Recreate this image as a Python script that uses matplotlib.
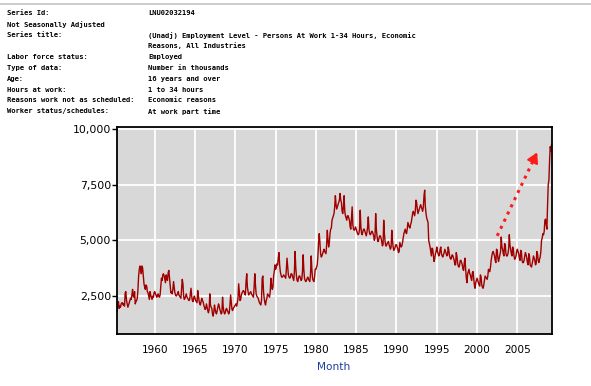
import matplotlib
matplotlib.use('Agg')
from matplotlib import pyplot as plt
from matplotlib.ticker import FuncFormatter
import numpy as np

# monthly values, thousands
monthly = {
    1955: [2450, 2300, 2200, 1950, 1800, 2100, 2250, 1950, 2050, 2000, 2150, 2200],
    1956: [2200, 2100, 2150, 2050, 2650, 2700, 2300, 2150, 2000, 2100, 2200, 2300],
    1957: [2400, 2350, 2550, 2800, 2500, 2450, 2700, 2150, 2250, 2300, 2400, 2800],
    1958: [3400, 3700, 3850, 3700, 3500, 3850, 3750, 3400, 3050, 2900, 2800, 3000],
    1959: [2950, 2700, 2650, 2500, 2350, 2700, 2550, 2450, 2350, 2500, 2450, 2650],
    1960: [2700, 2600, 2550, 2450, 2500, 2600, 2500, 2450, 2550, 2900, 3300, 3200],
    1961: [3450, 3500, 3400, 3250, 3100, 3450, 3300, 3200, 3550, 3650, 3300, 3000],
    1962: [2650, 2700, 2600, 2800, 3150, 2900, 2650, 2550, 2500, 2550, 2600, 2700],
    1963: [2550, 2500, 2450, 2400, 2850, 3250, 3050, 2500, 2350, 2400, 2500, 2600],
    1964: [2450, 2400, 2350, 2300, 2350, 2600, 2850, 2500, 2300, 2250, 2400, 2500],
    1965: [2400, 2300, 2250, 2200, 2750, 2500, 2300, 2150, 2100, 2250, 2400, 2300],
    1966: [2250, 2100, 2000, 1900, 1950, 2150, 2000, 1850, 1750, 1900, 2600, 2100],
    1967: [2000, 1950, 1700, 1600, 1800, 2100, 1900, 1750, 1700, 1850, 2000, 2150],
    1968: [2050, 1900, 1800, 1700, 1750, 2450, 2000, 1800, 1700, 1750, 1900, 1950],
    1969: [1850, 1800, 1700, 1750, 2100, 2550, 2200, 1900, 1850, 1950, 2000, 2050],
    1970: [2100, 2150, 2050, 2200, 2400, 3050, 2700, 2300, 2350, 2550, 2650, 2700],
    1971: [2750, 2700, 2600, 2550, 3150, 3500, 2900, 2700, 2550, 2600, 2650, 2700],
    1972: [2600, 2550, 2500, 2450, 2900, 3500, 3000, 2600, 2500, 2450, 2400, 2300],
    1973: [2200, 2150, 2100, 2300, 3300, 3400, 2700, 2400, 2200, 2100, 2300, 2400],
    1974: [2600, 2550, 2500, 2450, 2700, 3300, 3000, 2800, 2900, 3400, 3600, 3900],
    1975: [3700, 3800, 3950, 3900, 4200, 4450, 3900, 3600, 3450, 3350, 3350, 3400],
    1976: [3450, 3400, 3350, 3300, 3700, 4200, 3800, 3450, 3350, 3300, 3350, 3500],
    1977: [3500, 3400, 3300, 3200, 3600, 4500, 3800, 3400, 3200, 3150, 3300, 3400],
    1978: [3400, 3300, 3200, 3250, 3600, 4350, 3700, 3300, 3200, 3150, 3200, 3300],
    1979: [3350, 3250, 3200, 3150, 3500, 4300, 3700, 3300, 3200, 3150, 3350, 3700],
    1980: [3700, 3800, 3900, 4300, 4900, 5300, 4900, 4400, 4250, 4300, 4400, 4500],
    1981: [4600, 4500, 4450, 4400, 4800, 5450, 5000, 4700, 4900, 5300, 5500, 5550],
    1982: [5900, 6000, 6100, 6200, 6500, 7000, 6600, 6400, 6500, 6600, 6700, 6800],
    1983: [7100, 6800, 6700, 6300, 6200, 6500, 7000, 6300, 6100, 6000, 5900, 6100],
    1984: [6100, 6000, 5900, 5600, 5500, 6000, 6500, 5700, 5500, 5450, 5500, 5600],
    1985: [5500, 5400, 5300, 5250, 5300, 5500, 6350, 5600, 5300, 5250, 5400, 5500],
    1986: [5500, 5400, 5300, 5200, 5350, 5600, 6050, 5500, 5300, 5250, 5300, 5400],
    1987: [5400, 5300, 5200, 5000, 5100, 6200, 5500, 5200, 4950, 4950, 5100, 5200],
    1988: [5200, 5100, 4950, 4750, 4800, 5900, 5300, 4950, 4750, 4750, 4850, 4900],
    1989: [4950, 4800, 4700, 4600, 4700, 5450, 5000, 4700, 4550, 4600, 4700, 4800],
    1990: [4800, 4700, 4600, 4450, 4500, 4900, 4800, 4700, 4750, 4900, 5100, 5300],
    1991: [5400, 5500, 5350, 5300, 5500, 5800, 5700, 5600, 5550, 5700, 5800, 6000],
    1992: [6200, 6300, 6200, 6100, 6300, 6800, 6700, 6400, 6200, 6300, 6400, 6500],
    1993: [6600, 6500, 6400, 6300, 6500, 7000, 7250, 6500, 6200, 6000, 5900, 5800],
    1994: [5000, 4850, 4700, 4500, 4300, 4650, 4600, 4300, 4050, 4200, 4400, 4500],
    1995: [4700, 4500, 4400, 4300, 4350, 4600, 4700, 4400, 4300, 4250, 4350, 4450],
    1996: [4600, 4500, 4400, 4300, 4350, 4700, 4550, 4300, 4200, 4150, 4250, 4350],
    1997: [4300, 4200, 4100, 3900, 3900, 4450, 4300, 4000, 3850, 3800, 3900, 4100],
    1998: [4100, 4000, 3900, 3700, 3650, 4000, 4200, 3700, 3300, 3100, 3500, 3600],
    1999: [3700, 3500, 3450, 3300, 3200, 3550, 3600, 3300, 3000, 2850, 3100, 3200],
    2000: [3300, 3200, 3100, 3000, 2950, 3450, 3350, 3000, 2900, 2850, 3000, 3200],
    2001: [3400, 3350, 3300, 3250, 3400, 3700, 3600, 3600, 3800, 4100, 4300, 4450],
    2002: [4500, 4400, 4300, 4100, 4000, 4600, 4550, 4200, 4050, 4200, 4350, 4500],
    2003: [5150, 4700, 4600, 4400, 4300, 4850, 4800, 4400, 4300, 4300, 4400, 4600],
    2004: [5250, 4800, 4600, 4400, 4300, 4700, 4600, 4300, 4150, 4200, 4300, 4500],
    2005: [4600, 4500, 4400, 4200, 4100, 4550, 4500, 4100, 4000, 4000, 4100, 4300],
    2006: [4450, 4350, 4200, 4000, 3900, 4400, 4300, 3900, 3850, 3800, 3950, 4100],
    2007: [4300, 4200, 4100, 3900, 3950, 4500, 4400, 4100, 4000, 4150, 4250, 4500],
    2008: [5000, 5100, 5300, 5250, 5400, 5900, 5950, 5700, 5500, 6600, 7500, 7700],
    2009: [8600, 9200, 9000, 9300],
}

yticks = [2500, 5000, 7500, 10000]
xticks = [1960, 1965, 1970, 1975, 1980, 1985, 1990, 1995, 2000, 2005]

# hand-drawn arrow on the chart (year, value)
arrow_start = (2002.5, 5200)
arrow_end = (2007.6, 9050)

header = [
    ('Series Id:', 'LNU02032194'),
    ('Not Seasonally Adjusted', ''),
    ('Series title:', '(Unadj) Employment Level - Persons At Work 1-34 Hours, Economic'),
    ('', 'Reasons, All Industries'),
    ('Labor force status:', 'Employed'),
    ('Type of data:', 'Number in thousands'),
    ('Age:', '16 years and over'),
    ('Hours at work:', '1 to 34 hours'),
    ('Reasons work not as scheduled:', 'Economic reasons'),
    ('Worker status/schedules:', 'At work part time'),
]

t = []
v = []
for year, vals in monthly.items():
    for m, val in enumerate(vals):
        t.append(year + m / 12)
        v.append(val)
t = np.array(t)
v = np.array(v)

fig = plt.figure(figsize=(5.91, 3.86), dpi=100)
fig.patch.set_facecolor('white')

# header block
fig.add_artist(plt.Line2D([0, 1], [1 - 4 / 386, 1 - 4 / 386], color='#c4c4c4', lw=1.2))
for i, (lab, val) in enumerate(header):
    y = 1 - (13.3 + i * 10.9) / 386
    fig.text(7 / 591, y, lab, family='DejaVu Sans Mono', weight='bold', size=5.15, va='center')
    fig.text(148 / 591, y, val, family='DejaVu Sans Mono', weight='bold', size=5.15, va='center')

ax = fig.add_axes([116.7 / 591, 1 - 334 / 386, (552 - 116.7) / 591, (334 - 127) / 386])
ax.set_facecolor('#d8d8d8')
ax.plot(t, v, color='#a00000', lw=1.0)

ax.set_xlim(1955.28, 2009.3)
ax.set_ylim(800, 10080)
ax.set_xticks(xticks)
ax.set_yticks(yticks)
ax.yaxis.set_major_formatter(FuncFormatter(lambda x, p: f'{int(x):,}'))
ax.grid(True, color='white', lw=1.3)
ax.set_axisbelow(True)
for s in ax.spines.values():
    s.set_color('black')
    s.set_linewidth(1.3)
ax.tick_params(axis='x', length=0, pad=8, labelsize=7.6)
ax.tick_params(axis='y', length=3.6, width=1, pad=0.5, labelsize=7.8)

# arrow
ax.plot([arrow_start[0], arrow_end[0]], [arrow_start[1], arrow_end[1]],
        ls=(0, (1, 1.6)), color='#ff1a1a', lw=2.2)
dx = arrow_end[0] - arrow_start[0]
dy = arrow_end[1] - arrow_start[1]
ax.annotate('', xy=arrow_end, xytext=(arrow_end[0] - dx * 0.12, arrow_end[1] - dy * 0.12),
            arrowprops=dict(arrowstyle='-|>,head_length=0.6,head_width=0.35',
                            color='#ff1a1a', lw=1.5))

fig.text(334 / 591, 1 - 367 / 386, 'Month', color='#1a3fa0', size=7.6, ha='center', va='center')

fig.savefig('out.png', dpi=100)
